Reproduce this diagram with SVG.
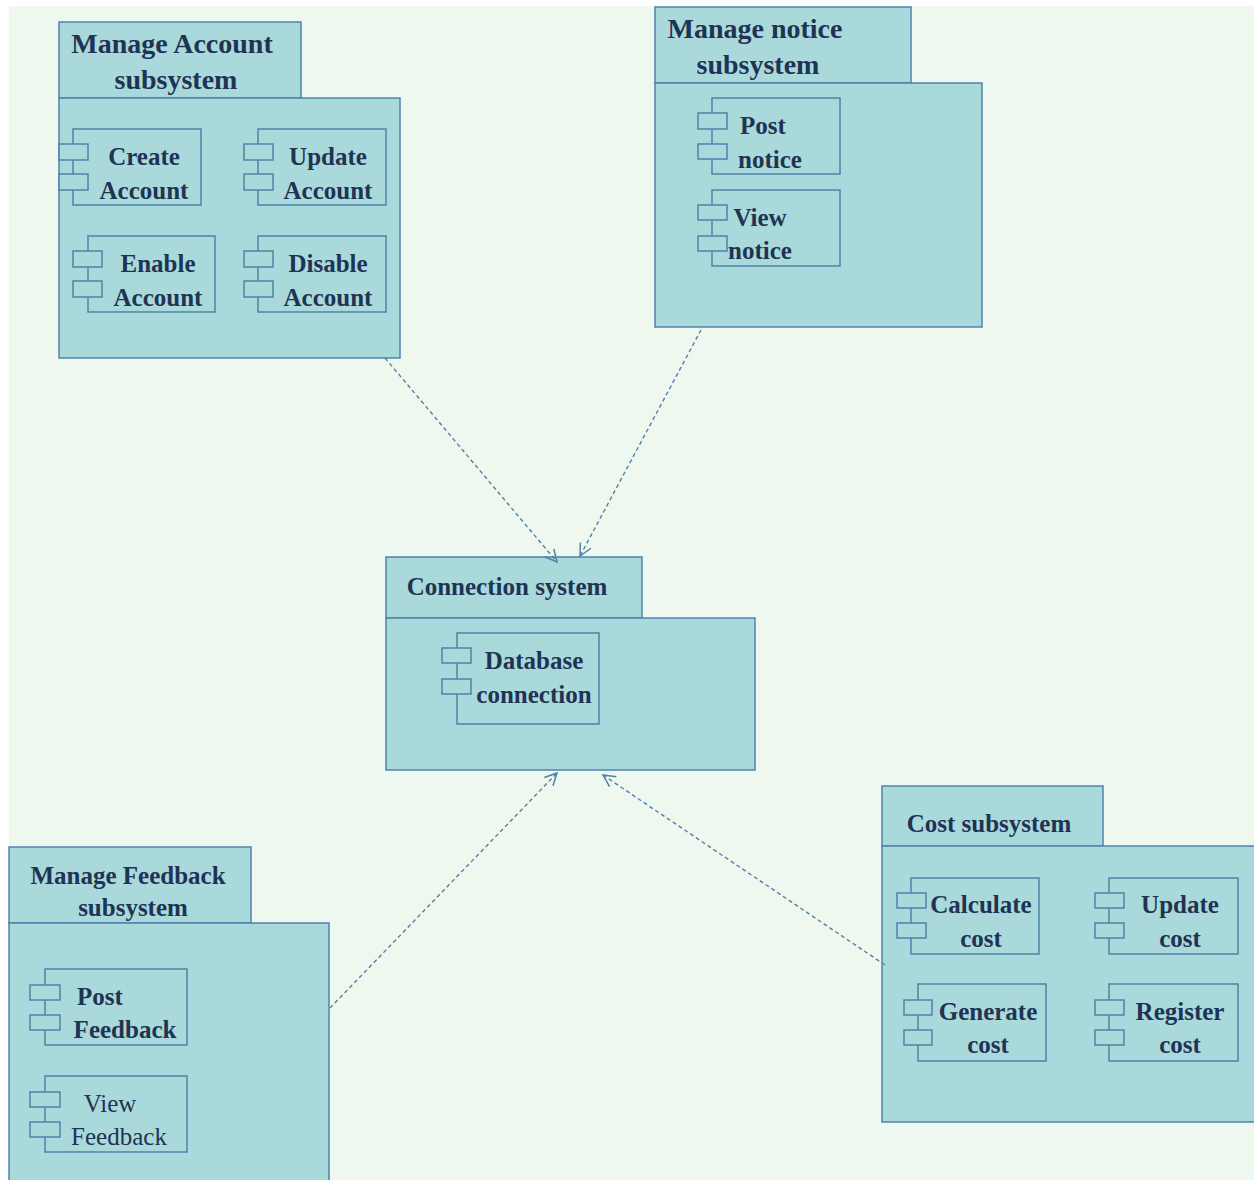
<svg xmlns="http://www.w3.org/2000/svg" width="1254" height="1180" viewBox="0 0 1254 1180">
  <style>
    .pkg { fill: #a9d9da; stroke: #4f82aa; stroke-width: 1.5; }
    .cmp { fill: #a9d9da; stroke: #4f82aa; stroke-width: 1.5; }
    .port { fill: #a9d9da; stroke: #4f82aa; stroke-width: 1.5; }
    .t { font-family: 'Liberation Serif', 'DejaVu Serif', serif; font-weight: bold; fill: #1f3354; text-anchor: middle; }
    .t28 { font-size: 28px; }
    .t25 { font-size: 25px; }
    .reg { font-weight: normal; }
    .dep { fill: none; stroke: #4f82aa; stroke-width: 1.4; stroke-dasharray: 4 3; }
  </style>
  <defs>
    <marker id="open" viewBox="0 0 14 14" refX="13" refY="7" markerWidth="14" markerHeight="14" markerUnits="userSpaceOnUse" orient="auto">
      <path d="M1,1 L13,7 L1,13" fill="none" stroke="#4f82aa" stroke-width="1.5"/>
    </marker>
  </defs>

  <!-- canvas -->
  <rect x="0" y="0" width="1254" height="1180" fill="#ffffff"/>
  <rect x="9" y="6" width="1245" height="1174" fill="#eff8ee"/>

  <!-- Manage Account subsystem -->
  <g id="pkg-account">
    <rect class="pkg" x="59" y="22" width="242" height="76"/>
    <rect class="pkg" x="59" y="98" width="341" height="260"/>
    <text class="t t28" x="172" y="53">Manage Account</text>
    <text class="t t28" x="176" y="89">subsystem</text>
    <g id="cmp-create-account">
      <rect class="cmp" x="73" y="129" width="128" height="76"/>
      <rect class="port" x="59" y="144" width="29" height="16"/>
      <rect class="port" x="59" y="174" width="29" height="16"/>
      <text class="t t25" x="144" y="165">Create</text>
      <text class="t t25" x="144" y="199">Account</text>
    </g>
    <g id="cmp-update-account">
      <rect class="cmp" x="258" y="129" width="128" height="76"/>
      <rect class="port" x="244" y="144" width="29" height="16"/>
      <rect class="port" x="244" y="174" width="29" height="16"/>
      <text class="t t25" x="328" y="165">Update</text>
      <text class="t t25" x="328" y="199">Account</text>
    </g>
    <g id="cmp-enable-account">
      <rect class="cmp" x="88" y="236" width="127" height="76"/>
      <rect class="port" x="73" y="251" width="29" height="16"/>
      <rect class="port" x="73" y="281" width="29" height="16"/>
      <text class="t t25" x="158" y="272">Enable</text>
      <text class="t t25" x="158" y="306">Account</text>
    </g>
    <g id="cmp-disable-account">
      <rect class="cmp" x="258" y="236" width="128" height="76"/>
      <rect class="port" x="244" y="251" width="29" height="16"/>
      <rect class="port" x="244" y="281" width="29" height="16"/>
      <text class="t t25" x="328" y="272">Disable</text>
      <text class="t t25" x="328" y="306">Account</text>
    </g>
  </g>

  <!-- Manage notice subsystem -->
  <g id="pkg-notice">
    <rect class="pkg" x="655" y="7" width="256" height="76"/>
    <rect class="pkg" x="655" y="83" width="327" height="244"/>
    <text class="t t28" x="755" y="38">Manage notice</text>
    <text class="t t28" x="758" y="74">subsystem</text>
    <g id="cmp-post-notice">
      <rect class="cmp" x="712" y="98" width="128" height="76"/>
      <rect class="port" x="698" y="113" width="29" height="16"/>
      <rect class="port" x="698" y="144" width="29" height="15"/>
      <text class="t t25" x="763" y="134">Post</text>
      <text class="t t25" x="770" y="168">notice</text>
    </g>
    <g id="cmp-view-notice">
      <rect class="cmp" x="712" y="190" width="128" height="76"/>
      <rect class="port" x="698" y="205" width="29" height="15"/>
      <rect class="port" x="698" y="236" width="29" height="15"/>
      <text class="t t25" x="760" y="226">View</text>
      <text class="t t25" x="760" y="259">notice</text>
    </g>
  </g>

  <!-- Connection system -->
  <g id="pkg-connection">
    <rect class="pkg" x="386" y="557" width="256" height="61"/>
    <rect class="pkg" x="386" y="618" width="369" height="152"/>
    <text class="t t25" x="507" y="595">Connection system</text>
    <g id="cmp-database-connection">
      <rect class="cmp" x="457" y="633" width="142" height="91"/>
      <rect class="port" x="442" y="648" width="29" height="15"/>
      <rect class="port" x="442" y="679" width="29" height="15"/>
      <text class="t t25" x="534" y="669">Database</text>
      <text class="t t25" x="534" y="703">connection</text>
    </g>
  </g>

  <!-- Manage Feedback subsystem -->
  <g id="pkg-feedback">
    <rect class="pkg" x="9" y="847" width="242" height="76"/>
    <rect class="pkg" x="9" y="923" width="320" height="265"/>
    <text class="t t25" x="128" y="884">Manage Feedback</text>
    <text class="t t25" x="133" y="916">subsystem</text>
    <g id="cmp-post-feedback">
      <rect class="cmp" x="45" y="969" width="142" height="76"/>
      <rect class="port" x="30" y="985" width="30" height="15"/>
      <rect class="port" x="30" y="1015" width="30" height="15"/>
      <text class="t t25" x="100" y="1005">Post</text>
      <text class="t t25" x="125" y="1038">Feedback</text>
    </g>
    <g id="cmp-view-feedback">
      <rect class="cmp" x="45" y="1076" width="142" height="76"/>
      <rect class="port" x="30" y="1092" width="30" height="15"/>
      <rect class="port" x="30" y="1122" width="30" height="15"/>
      <text class="t t25 reg" x="110" y="1112">View</text>
      <text class="t t25 reg" x="119" y="1145">Feedback</text>
    </g>
  </g>

  <!-- Cost subsystem -->
  <g id="pkg-cost">
    <rect class="pkg" x="882" y="786" width="221" height="60"/>
    <rect class="pkg" x="882" y="846" width="380" height="276"/>
    <text class="t t25" x="989" y="832">Cost subsystem</text>
    <g id="cmp-calculate-cost">
      <rect class="cmp" x="911" y="878" width="128" height="76"/>
      <rect class="port" x="897" y="893" width="29" height="15"/>
      <rect class="port" x="897" y="923" width="29" height="15"/>
      <text class="t t25" x="981" y="913">Calculate</text>
      <text class="t t25" x="981" y="947">cost</text>
    </g>
    <g id="cmp-update-cost">
      <rect class="cmp" x="1109" y="878" width="129" height="76"/>
      <rect class="port" x="1095" y="893" width="29" height="15"/>
      <rect class="port" x="1095" y="923" width="29" height="15"/>
      <text class="t t25" x="1180" y="913">Update</text>
      <text class="t t25" x="1180" y="947">cost</text>
    </g>
    <g id="cmp-generate-cost">
      <rect class="cmp" x="918" y="984" width="128" height="77"/>
      <rect class="port" x="904" y="1000" width="28" height="15"/>
      <rect class="port" x="904" y="1030" width="28" height="15"/>
      <text class="t t25" x="988" y="1020">Generate</text>
      <text class="t t25" x="988" y="1053">cost</text>
    </g>
    <g id="cmp-register-cost">
      <rect class="cmp" x="1109" y="984" width="129" height="77"/>
      <rect class="port" x="1095" y="1000" width="29" height="15"/>
      <rect class="port" x="1095" y="1030" width="29" height="15"/>
      <text class="t t25" x="1180" y="1020">Register</text>
      <text class="t t25" x="1180" y="1053">cost</text>
    </g>
  </g>

  <!-- dependencies -->
  <g id="connectors">
    <line class="dep" x1="385" y1="358" x2="557" y2="562" marker-end="url(#open)"/>
    <line class="dep" x1="701" y1="330" x2="580" y2="556" marker-end="url(#open)"/>
    <line class="dep" x1="330" y1="1008" x2="557" y2="773" marker-end="url(#open)"/>
    <line class="dep" x1="885" y1="965" x2="603" y2="775" marker-end="url(#open)"/>
  </g>
</svg>
